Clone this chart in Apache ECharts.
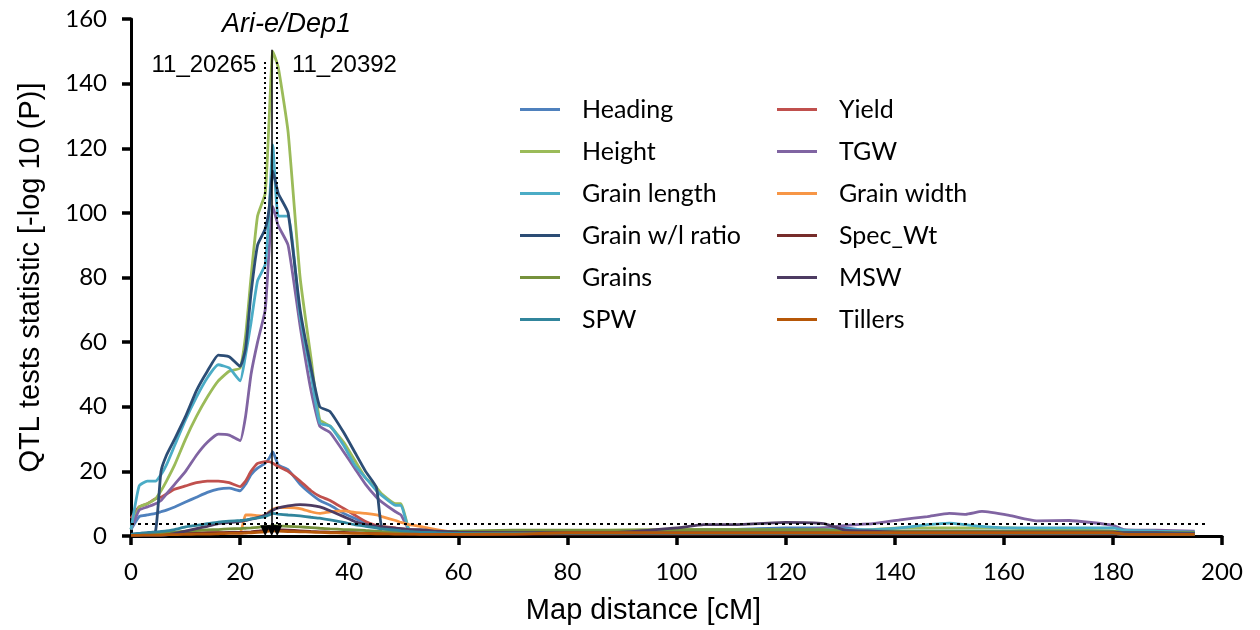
<!DOCTYPE html>
<html><head><meta charset="utf-8">
<script src="https://cdn.jsdelivr.net/npm/echarts@6/dist/echarts.min.js"></script>
<style>html,body{margin:0;padding:0;background:#fff}#c{width:1260px;height:630px}</style>
</head><body><div id="c"></div>
<script>
// Map positions (cM)
const positions = [0,1.5,3,4.5,5.5,6.5,8,10,12,14, 16,18,20,21,22,23.2,24.6,25.3,26,27, 28.8,31,33,34.6,36.5,39,41,43,45,46, 48.5,49.5,51,53,56,60,70,80,90,100, 105,110,120,127,131,136,141,146,150,153, 156,161,166,172,180,182,188,195];

// -log10(P) per trait
const heading = [2,6,6.5,7,7.5,8,9,10.5,12,13.5, 14.5,14.8,14,16,19,21,22.5,24,26,22, 20.5,16,13,11,9.5,7,5.5,4,3,2.5, 2,2,1.5,1.2,1,1,1.2,1.5,1.5,1.5, 2,2,2.5,2.5,2.5,1.5,1.5,1.5,1.5,1.5, 1.5,1.5,1.5,1.5,1.5,1.2,1.2,1];
const yieldV = [5.5,9,10,11.5,12,13,14.5,15.5,16.5,17, 17,16.5,15.3,17,20,22.5,23,23,22.5,21.5, 20,17,14,12.3,11,8.5,6.5,4.5,3.2,3, 2.5,2.2,2,1.5,1.2,1,1,1,1,1, 1,1,1,1,1,1,1,1,1,1, 1,1,1,1,1,0.8,0.8,0.8];
const height = [2,9,10,11.5,14,17,22,30,37,43, 48,51,52,62,80,99,106,128,150,145, 125,80,55,36,34,29,23.5,18,15,13, 10,10,2,1.5,1.5,1.2,1.5,1.5,1.8,2, 2,2,1.8,1.5,1.5,2,2.5,2.5,2.5,2.5, 2.5,2.5,2,2,1.5,1.2,1,0.8];
const tgw = [2,8,9,10,11,13,16,20,25,29, 31.5,31.2,29.5,37,50,60,70,88,102,96, 90,65,45,34,32,26,21,16,12,10.5, 7.5,6.5,2,1.8,1.5,1.2,1,1,1,1, 1,1,1.5,2.5,3.3,3.8,5,6,7,6.7, 7.6,6.4,4.7,4.8,3.3,2,1.8,1.5];
const grainLength = [2,15.5,17,17,19,22,28,36,43,49, 53,52,48,56,66,79,84,100,121,99, 99,68,50,35,34,28,22,18,14,12.5, 9.5,9.5,1.5,1,1,1,1,1,1.2,1.5, 1.5,1.5,1.5,2,2,2,2.5,3.5,4,3.5, 3,2.5,2.5,2.5,2.5,1.8,1.5,1.2];
const grainWidth = [0.5,0.5,0.6,0.6,0.7,0.7,0.8,0.8,0.9,0.9, 1,1,1,6.5,6.5,6.3,6.2,7.5,8.3,8.8, 8.8,8.5,7.5,7,7.5,7.8,7.3,7,6.5,6, 4.8,4.2,3.5,3,2,1,0.8,0.8,0.8,0.8, 0.8,0.8,0.8,0.8,0.8,0.8,0.8,0.8,0.8,0.8, 0.8,0.8,0.8,0.8,0.8,0.5,0.5,0.5];
const grainRatio = [0.5,0.8,1,1.5,20,25,30,37,45,51, 56,55.5,52.5,58,75,90,95,101,113,106, 100,70,52,40,38.5,32,26,20,15,2.5, 2,2,1.5,1.2,1,1,1,1,1,1, 1,1,1,1,1,1,1,1,1,1, 1,1,1,1,1,0.8,0.8,0.8];
const specWt = [0.3,0.4,0.5,0.5,0.6,0.6,0.7,0.8,0.9,1, 1,1.1,1.1,1.2,1.3,1.5,1.7,1.9,2,1.9, 1.8,1.6,1.4,1.3,1.2,1.1,1,0.9,0.8,0.8, 0.7,0.7,0.6,0.6,0.6,0.5,0.5,0.6,0.6,0.6, 0.6,0.6,0.6,0.6,0.6,0.6,0.6,0.6,0.6,0.6, 0.6,0.6,0.6,0.6,0.6,0.5,0.5,0.5];
const grains = [0.3,0.4,0.6,0.8,0.9,1,1.2,1.5,1.7,1.9, 2,2.2,2.3,2.4,2.5,2.7,2.9,3,3.2,3.1, 3,2.8,2.6,2.4,2.2,2,1.9,1.7,1.5,1.4, 1.3,1.2,1.2,1.2,1.3,1.5,1.8,1.8,1.8,2, 2,2,2,2,1.5,1.5,1.5,1.5,1.5,1.5, 1.5,1.5,1.5,1.5,1.5,1,1,1];
const msw = [0.2,0.2,0.2,0.2,0.2,0.3,0.8,1.5,2.3,3, 3.8,4.2,4.5,4.8,5.2,5.7,6.5,7.2,8,8.7, 9.3,9.7,9.5,9,7.8,6,4.5,3.5,3,2.8, 2.4,2.3,2,2,1.5,1.2,1,1,1.2,2.5, 3.5,3.5,4.2,3.8,1.8,1.5,1.2,1.2,1.2,1.2, 1.2,1.2,1.2,1.2,1.2,1,1,0.8];
const spw = [0.5,0.8,1,1.2,1.4,1.6,2,2.8,3.3,3.8, 4.3,4.6,4.8,5,5.3,5.6,6,6.5,7,6.8, 6.5,6.2,5.8,5.5,5,4.2,3.5,3,2.5,2.2, 1.8,1.6,1.4,1.2,1,0.8,0.8,0.8,0.8,0.8, 0.8,0.8,0.8,0.8,0.8,0.8,0.8,0.8,0.8,0.8, 0.8,0.8,0.8,0.8,0.8,0.6,0.6,0.6];
const tillers = [0.2,0.2,0.3,0.3,0.3,0.4,0.4,0.5,0.6,0.6, 0.7,0.8,0.8,0.9,1,1.1,1.3,1.5,1.6,1.5, 1.4,1.3,1.2,1.1,1,0.9,0.8,0.8,0.7,0.7, 0.6,0.6,0.6,0.5,0.5,0.5,0.6,1,1,1, 1,1,1,1,1,1,1,1,1,1, 1,1,1,1,1,0.6,0.5,0.5];

// Series in drawing order
const traitNames  = ['Heading','Yield','Height','TGW','Grain length','Grain width','Grain w/l ratio','Spec_Wt','Grains','MSW','SPW','Tillers'];
const traitValues = [heading, yieldV, height, tgw, grainLength, grainWidth, grainRatio, specWt, grains, msw, spw, tillers];
const traitColors = ['#4F81BD','#C0504D','#9BBB59','#8064A2','#4BACC6','#F79646','#2C4D75','#772C2A','#76923C','#4D3B62','#31859C','#B65708'];
const legendCol1 = ['Heading','Height','Grain length','Grain w/l ratio','Grains','SPW'];
const legendCol2 = ['Yield','TGW','Grain width','Spec_Wt','MSW','Tillers'];

// Axes
const xRange = [0, 200, 20];
const yRange = [0, 160, 20];
const xTitle = 'Map distance [cM]';
const yTitle = 'QTL tests statistic [-log 10 (P)]';

// Markers
const threshold = 3.7;
const thresholdEnd = 197.5;
const markerPositions = [24.6, 26.8];
const markerTop = 146.7;
const peakPosition = 25.8;
const peakTop = 150.5;
const arrowTip = 1.6;
const locusName = 'Ari-e/Dep1';
const leftMarkerName = '11_20265';
const rightMarkerName = '11_20392';
const locusAnchor = [28.5, 158.4];
const leftAnchor = [23.0, 145.7];
const rightAnchor = [29.5, 145.7];

const chart = echarts.init(document.getElementById('c'), null, {renderer: 'canvas'});

const series = traitNames.map((n, k) => ({
  name: n, type: 'line', symbol: 'none', smooth: 0.15,
  data: positions.map((x, i) => [x, traitValues[k][i]]),
  lineStyle: {width: 2.8, color: traitColors[k]},
  itemStyle: {color: traitColors[k]},
  z: 2
}));

const dotted = {type: [2, 3], width: 2, color: '#000'};
series.push({
  name: 'markers', type: 'line', data: [], z: 5,
  markLine: {
    silent: true, animation: false,
    symbol: ['none', 'triangle'], symbolSize: [10, 11],
    label: {show: false},
    emphasis: {disabled: true},
    data: [
      [{coord: [0, threshold], symbol: 'none'}, {coord: [thresholdEnd, threshold], symbol: 'none', lineStyle: {type: [3, 4], width: 2, color: '#000'}}],
      [{coord: [markerPositions[0], markerTop]}, {coord: [markerPositions[0], arrowTip], lineStyle: dotted}],
      [{coord: [markerPositions[1], markerTop]}, {coord: [markerPositions[1], arrowTip], lineStyle: dotted}],
      [{coord: [peakPosition, peakTop]}, {coord: [peakPosition, arrowTip], lineStyle: {type: 'solid', width: 1.5, color: '#000'}}]
    ]
  }
});

const axisCommon = {
  type: 'value',
  axisLine: {show: true, onZero: false, lineStyle: {color: '#000', width: 3}},
  axisTick: {show: true, inside: false, length: 9, lineStyle: {color: '#000', width: 3.5}},
  splitLine: {show: false},
  axisLabel: {color: '#000', fontFamily: 'Lato', fontSize: 24, margin: 24, showMinLabel: true, showMaxLabel: true},
  nameLocation: 'middle'
};

const legendCommon = {
  orient: 'vertical', icon: 'rect', itemWidth: 40, itemHeight: 3,
  itemGap: 17, top: 97, padding: 0,
  textStyle: {fontFamily: 'Lato', fontSize: 25, lineHeight: 24, color: '#000', padding: [0, 0, 0, 17]},
  selectedMode: false
};

chart.setOption({
  animation: false,
  backgroundColor: '#fff',
  grid: {left: 131, right: 38, top: 19, bottom: 92, containLabel: false},
  xAxis: Object.assign({}, axisCommon, {
    min: xRange[0], max: xRange[1], interval: xRange[2],
    name: xTitle, nameGap: 60,
    nameTextStyle: {fontFamily: 'Liberation Sans', fontSize: 29, color: '#000', padding: [0, 66, 0, 0]}
  }),
  yAxis: Object.assign({}, axisCommon, {
    min: yRange[0], max: yRange[1], interval: yRange[2],
    name: yTitle, nameGap: 86, nameRotate: 90,
    nameTextStyle: {fontFamily: 'Liberation Sans', fontSize: 29, color: '#000'}
  }),
  legend: [
    Object.assign({}, legendCommon, {left: 520, data: legendCol1}),
    Object.assign({}, legendCommon, {left: 777, data: legendCol2})
  ],
  series: series
});

const pL = chart.convertToPixel({gridIndex: 0}, locusAnchor);
const pA = chart.convertToPixel({gridIndex: 0}, leftAnchor);
const pB = chart.convertToPixel({gridIndex: 0}, rightAnchor);
chart.setOption({
  graphic: [
    {type: 'text', x: pL[0], y: pL[1], z: 10, style: {text: locusName, fill: '#000', font: 'italic 27px "Liberation Sans", Arial, sans-serif', align: 'center', verticalAlign: 'middle'}},
    {type: 'text', x: pA[0], y: pA[1], z: 10, style: {text: leftMarkerName, fill: '#000', font: '24px "Liberation Sans", Arial, sans-serif', align: 'right', verticalAlign: 'middle'}},
    {type: 'text', x: pB[0], y: pB[1], z: 10, style: {text: rightMarkerName, fill: '#000', font: '24px "Liberation Sans", Arial, sans-serif', align: 'left', verticalAlign: 'middle'}}
  ]
});
</script>
</body></html>
